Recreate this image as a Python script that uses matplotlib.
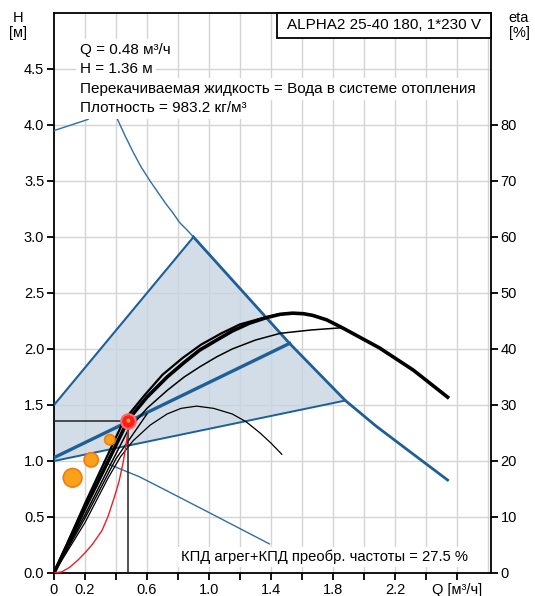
import matplotlib
matplotlib.use('Agg')
import matplotlib.pyplot as plt
from matplotlib.patches import Polygon, Rectangle

plt.rcParams['font.family'] = ['Liberation Sans', 'DejaVu Sans']

# ---------------- data ----------------
x_ticks = [0, 0.2, 0.4, 0.6, 0.8, 1.0, 1.2, 1.4, 1.6, 1.8, 2.0, 2.2, 2.4, 2.6]
x_labels = ['0', '0.2', '', '0.6', '', '1.0', '', '1.4', '', '1.8', '', '2.2', '', 'Q [м³/ч]']
y_ticks = [0.0, 0.5, 1.0, 1.5, 2.0, 2.5, 3.0, 3.5, 4.0, 4.5]
eta_ticks = [0, 10, 20, 30, 40, 50, 60, 70, 80]

region_q = [0, 0.90, 1.52, 1.88, 0]
region_h = [1.5, 3.0, 2.05, 1.54, 1.0]

max_q = [0.41, 0.46, 0.51, 0.56, 0.62, 0.67, 0.72, 0.77, 0.81, 0.86, 0.90,
         1.52, 1.88, 2.08, 2.30, 2.54]
max_h = [4.05, 3.90, 3.76, 3.63, 3.50, 3.40, 3.30, 3.21, 3.13, 3.06, 3.00,
         2.05, 1.54, 1.31, 1.08, 0.83]

upper_q = [0, 0.90]
upper_h = [1.5, 3.0]
prop_q = [0, 1.52]
prop_h = [1.03, 2.05]
min_q = [0, 1.88]
min_h = [1.0, 1.54]
low_q = [0.32, 0.55, 0.72, 1.00, 1.39]
low_h = [0.99, 0.86, 0.74, 0.54, 0.26]
top_q = [0, 0.22]
top_h = [3.95, 4.05]

main_q = [0, 0.2, 0.35, 0.48, 0.60, 0.73, 0.84, 0.94, 1.05, 1.15, 1.26, 1.37, 1.46,
          1.54, 1.61, 1.67, 1.76, 1.86, 1.98, 2.10, 2.21, 2.32, 2.43, 2.54]
main_h = [0, 0.58, 1.00, 1.37, 1.57, 1.75, 1.88, 1.99, 2.08, 2.16, 2.23, 2.28, 2.31,
          2.32, 2.315, 2.30, 2.26, 2.19, 2.10, 2.01, 1.91, 1.81, 1.69, 1.57]
second_q = [0, 0.2, 0.45, 0.58, 0.70, 0.83, 0.95, 1.08, 1.20, 1.33, 1.45]
second_h = [0, 0.62, 1.36, 1.58, 1.77, 1.92, 2.04, 2.14, 2.22, 2.27, 2.31]
third_q = [0, 0.2, 0.35, 0.48, 0.60, 0.73, 0.84, 0.94, 1.05, 1.15, 1.30, 1.46, 1.66, 1.86]
third_h = [0, 0.52, 0.93, 1.28, 1.47, 1.63, 1.75, 1.84, 1.93, 2.00, 2.08, 2.14, 2.17, 2.19]
fourth_q = [0, 0.2, 0.35, 0.43, 0.51, 0.62, 0.73, 0.82, 0.92, 1.03, 1.15, 1.24, 1.33, 1.40, 1.47]
fourth_h = [0, 0.45, 0.85, 1.04, 1.18, 1.32, 1.42, 1.47, 1.49, 1.47, 1.42, 1.35, 1.25, 1.16, 1.06]
fifth_q = [0, 0.2, 0.4, 0.6]
fifth_h = [0, 0.49, 1.02, 1.42]

red_q = [0, 0.05, 0.10, 0.155, 0.20, 0.25, 0.31, 0.35, 0.39, 0.42, 0.445, 0.465, 0.48]
red_h = [0, 0.01, 0.05, 0.116, 0.18, 0.26, 0.38, 0.51, 0.68, 0.82, 0.98, 1.14, 1.30]

dot_q = [0.12, 0.24, 0.36]
dot_h = [0.85, 1.01, 1.19]
dot_s = [180, 105, 55]

op_q = 0.48
op_h = 1.36

title = 'ALPHA2 25-40 180, 1*230 V'
info_lines = ['Q = 0.48 м³/ч', 'H = 1.36 м',
              'Перекачиваемая жидкость = Вода в системе отопления',
              'Плотность = 983.2 кг/м³']
eff_text = 'КПД агрег+КПД преобр. частоты = 27.5 %'

# ---------------- figure ----------------
fig = plt.figure(figsize=(5.35, 5.96), dpi=100)
ax = fig.add_axes([54/535, 23/596, 437/535, 560/596])
ax.set_xlim(0, 2.82)
ax.set_ylim(0, 5.0)

blue = '#1d5f96'
blue_thin = '#2f6ea5'
fs = 11
tfs = 10.5

# grid
for q in [0.2 * i for i in range(1, 15)]:
    ax.axvline(q, color='#d4d4d4', lw=1.0, zorder=0)
for h in [0.5 * i for i in range(1, 10)]:
    ax.axhline(h, color='#d4d4d4', lw=1.0, zorder=0)

ax.add_patch(Polygon(list(zip(region_q, region_h)), closed=True,
                     facecolor='#c8d5e2', alpha=0.8, edgecolor='none', zorder=1))

ax.plot(max_q[:11], max_h[:11], color=blue_thin, lw=1.0, zorder=3)
ax.plot(max_q[10:], max_h[10:], color=blue, lw=2.0, zorder=3)
ax.plot(upper_q, upper_h, color=blue, lw=1.5, zorder=3)
ax.plot(prop_q, prop_h, color=blue, lw=2.4, zorder=3)
ax.plot(min_q, min_h, color=blue, lw=1.4, zorder=3)
ax.plot(low_q, low_h, color=blue_thin, lw=1.0, zorder=3)
ax.plot(top_q, top_h, color=blue_thin, lw=1.0, zorder=3)

ax.plot(main_q, main_h, color='black', lw=2.6, zorder=4)
ax.plot(second_q, second_h, color='black', lw=1.6, zorder=4)
ax.plot(third_q, third_h, color='black', lw=1.1, zorder=4)
ax.plot(fourth_q, fourth_h, color='black', lw=0.9, zorder=4)
ax.plot(fifth_q, fifth_h, color='black', lw=1.0, zorder=4)

ax.plot(red_q, red_h, color='#e8202a', lw=1.0, zorder=5)

ax.plot([0, op_q], [op_h, op_h], color='#222222', lw=1.1, zorder=4)
ax.plot([op_q, op_q], [0, op_h], color='#222222', lw=1.1, zorder=4)

ax.scatter(dot_q, dot_h, s=dot_s, color='#f9a11b', edgecolor='#ef7d12', lw=1.2, zorder=6)
ax.scatter([op_q], [op_h], s=110, color='#ff1c1c', edgecolor='#ff6b6b', lw=1.5, zorder=7)
ax.scatter([op_q], [op_h], s=8, color='#ffb020', edgecolor='none', zorder=8)

# axes styling
for sp in ax.spines.values():
    sp.set_linewidth(1.3)
    sp.set_color('black')
ax.set_xticks(x_ticks)
ax.set_xticklabels(x_labels, fontsize=tfs)
ax.set_yticks(y_ticks)
ax.set_yticklabels(['%.1f' % v for v in y_ticks], fontsize=tfs)
ax.tick_params(direction='out', length=5, width=1.3, pad=2)

ax2 = ax.twinx()
ax2.set_ylim(0, 100)
ax2.set_yticks(eta_ticks)
ax2.set_yticklabels([str(v) for v in eta_ticks], fontsize=tfs)
ax2.tick_params(direction='out', length=5, width=1.3, pad=2)
for sp in ax2.spines.values():
    sp.set_visible(False)

fig.text(18/535, 1 - 18/596, 'H', fontsize=tfs, ha='center', va='center')
fig.text(18/535, 1 - 33/596, '[м]', fontsize=tfs, ha='center', va='center')
fig.text(519/535, 1 - 18/596, 'eta', fontsize=tfs, ha='center', va='center')
fig.text(519/535, 1 - 33/596, '[%]', fontsize=tfs, ha='center', va='center')

# title box
ax.add_patch(Rectangle((0.511, 0.955), 0.489, 0.045, transform=ax.transAxes,
                       facecolor='white', edgecolor='black', lw=1.3, zorder=10, clip_on=False))
ax.text(0.755, 0.978, title, transform=ax.transAxes, fontsize=fs,
        ha='center', va='center', zorder=11)

# info text
ys = [50, 69, 89, 108]
for line, yp in zip(info_lines, ys):
    ax.text((80 - 54) / 437, (573 - yp) / 560, line, transform=ax.transAxes,
            fontsize=fs, ha='left', va='center', zorder=11,
            bbox=dict(facecolor='white', edgecolor='none', pad=2.5))

ax.text((468 - 54) / 437, (573 - 557) / 560, eff_text, transform=ax.transAxes,
        fontsize=10.6, ha='right', va='center', zorder=11,
        bbox=dict(facecolor='white', edgecolor='none', pad=2.0))

fig.savefig('out.png', dpi=100)
